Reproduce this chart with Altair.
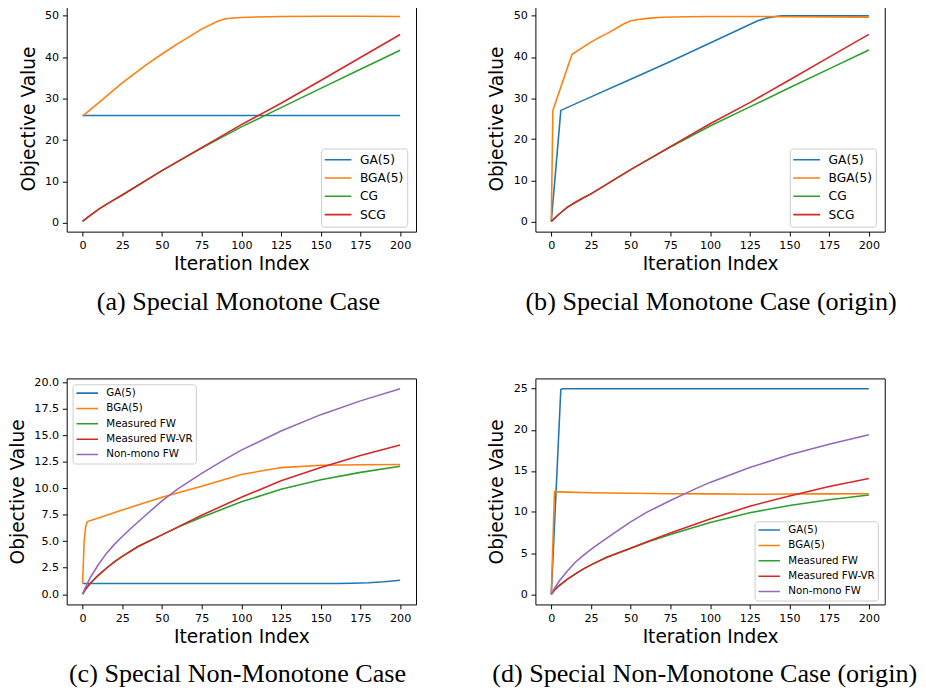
import altair as alt
import pandas as pd

# ---------------- data ----------------
X_TICKS = [0, 25, 50, 75, 100, 125, 150, 175, 200]

NAMES_AB = ["GA(5)", "BGA(5)", "CG", "SCG"]
NAMES_CD = ["GA(5)", "BGA(5)", "Measured FW", "Measured FW-VR", "Non-mono FW"]
COLORS_AB = ["#1f77b4", "#ff7f0e", "#2ca02c", "#d62728"]
COLORS_CD = ["#1f77b4", "#ff7f0e", "#2ca02c", "#d62728", "#9467bd"]

# (a) Special Monotone Case
A_X_GA = [0, 50, 100, 150, 200]
A_Y_GA = [25.95, 25.95, 25.95, 25.95, 25.95]
A_X_BGA = [0, 10, 25, 40, 50, 60, 75, 85, 90, 95, 100, 110, 125, 150, 175, 200]
A_Y_BGA = [25.8, 29.0, 33.8, 38.2, 40.8, 43.3, 46.8, 48.7, 49.3, 49.5, 49.6, 49.75, 49.85, 49.9, 49.9, 49.85]
A_X_CG = [0, 5, 10, 15, 20, 25, 50, 75, 100, 125, 150, 175, 200]
A_Y_CG = [0.4, 1.9, 3.3, 4.5, 5.65, 6.75, 12.65, 18.1, 23.2, 27.85, 32.5, 37.1, 41.7]
A_Y_SCG = [0.4, 1.9, 3.3, 4.5, 5.65, 6.75, 12.65, 18.2, 23.75, 28.9, 34.4, 39.95, 45.5]

# (b) Special Monotone Case (origin)
B_X_GA = [0, 6, 25, 50, 75, 100, 125, 130, 135, 140, 145, 200]
B_Y_GA = [0.0, 27.0, 30.3, 34.6, 38.9, 43.4, 47.9, 48.8, 49.4, 49.8, 50.0, 50.0]
B_X_BGA = [0, 1, 13, 20, 25, 30, 37, 45, 50, 55, 62, 70, 85, 100, 125, 150, 175, 200]
B_Y_BGA = [0.0, 27.0, 40.6, 42.4, 43.6, 44.7, 46.1, 47.9, 48.8, 49.1, 49.45, 49.65, 49.8, 49.85, 49.85, 49.8, 49.75, 49.7]
B_X_CG = [0, 5, 10, 15, 20, 25, 50, 75, 100, 125, 150, 175, 200]
B_Y_CG = [0.0, 1.8, 3.4, 4.6, 5.7, 6.7, 12.6, 18.1, 23.2, 27.85, 32.5, 37.1, 41.7]
B_Y_SCG = [0.0, 1.8, 3.4, 4.6, 5.7, 6.7, 12.6, 18.2, 23.75, 28.9, 34.4, 39.95, 45.5]

# (c) Special Non-Monotone Case
C_X_GA = [0, 25, 50, 75, 100, 125, 150, 160, 170, 180, 190, 200]
C_Y_GA = [1.0, 1.0, 1.0, 1.0, 1.0, 1.0, 1.0, 1.01, 1.03, 1.08, 1.17, 1.32]
C_X_BGA = [0, 1, 2, 3, 10, 25, 50, 75, 100, 125, 150, 175, 200]
C_Y_BGA = [1.0, 5.0, 6.4, 6.85, 7.2, 7.95, 9.15, 10.2, 11.3, 11.95, 12.17, 12.22, 12.25]
C_X_FW = [0, 2, 5, 10, 15, 20, 25, 35, 50, 62, 75, 100, 125, 150, 175, 200]
C_Y_FW = [0.0, 0.5, 1.05, 1.8, 2.45, 3.05, 3.57, 4.5, 5.6, 6.45, 7.27, 8.72, 9.9, 10.8, 11.5, 12.07]
C_Y_FWVR = [0.0, 0.5, 1.05, 1.8, 2.45, 3.05, 3.57, 4.5, 5.6, 6.5, 7.45, 9.15, 10.7, 11.95, 13.1, 14.08]
C_X_NM = [0, 1, 3, 5, 10, 15, 20, 25, 30, 40, 50, 60, 75, 90, 100, 125, 150, 175, 200]
C_Y_NM = [0.0, 0.4, 1.0, 1.6, 2.8, 3.85, 4.7, 5.45, 6.15, 7.5, 8.8, 9.95, 11.4, 12.75, 13.6, 15.4, 16.95, 18.25, 19.4]

# (d) Special Non-Monotone Case (origin)
D_X_GA = [0, 6, 7, 50, 100, 150, 200]
D_Y_GA = [0.0, 24.9, 25.0, 25.0, 25.0, 25.0, 25.0]
D_X_BGA = [0, 2, 10, 25, 50, 75, 100, 125, 150, 175, 200]
D_Y_BGA = [0.0, 12.48, 12.42, 12.35, 12.28, 12.22, 12.2, 12.15, 12.18, 12.2, 12.22]
D_X_FW = [0, 2, 5, 10, 15, 20, 25, 35, 50, 62, 75, 100, 125, 150, 175, 200]
D_Y_FW = [0.0, 0.5, 1.05, 1.8, 2.45, 3.05, 3.57, 4.5, 5.6, 6.45, 7.27, 8.72, 9.9, 10.8, 11.5, 12.07]
D_Y_FWVR = [0.0, 0.5, 1.05, 1.8, 2.45, 3.05, 3.57, 4.5, 5.6, 6.5, 7.45, 9.15, 10.7, 11.95, 13.1, 14.08]
D_X_NM = [0, 1, 3, 5, 10, 15, 20, 25, 30, 40, 50, 60, 75, 90, 100, 125, 150, 175, 200]
D_Y_NM = [0.0, 0.4, 1.0, 1.6, 2.8, 3.85, 4.7, 5.45, 6.15, 7.5, 8.8, 9.95, 11.4, 12.75, 13.6, 15.4, 16.95, 18.25, 19.4]

CAPTIONS = [
    "(a) Special Monotone Case",
    "(b) Special Monotone Case (origin)",
    "(c) Special Non-Monotone Case",
    "(d) Special Non-Monotone Case (origin)",
]

PW, PH = 357, 231


def frame(names, xs_list, ys_list):
    rows = []
    for name, xs, ys in zip(names, xs_list, ys_list):
        for xv, yv in zip(xs, ys):
            rows.append({"series": name, "x": xv, "y": yv})
    return pd.DataFrame(rows)


def panel(df, names, colors, ydom, yticks, yfmt, leg, caption, dx):
    return (
        alt.Chart(
            df,
            title=alt.TitleParams(
                text=caption, orient="bottom", anchor="middle", frame="group",
                font="Liberation Serif", fontSize=26.7, fontWeight="normal",
                color="black", offset=16, dx=dx,
            ),
        )
        .mark_line(strokeWidth=1.6)
        .encode(
            x=alt.X("x:Q", title="Iteration Index",
                    scale=alt.Scale(domain=[-10, 210], nice=False, zero=False),
                    axis=alt.Axis(values=X_TICKS)),
            y=alt.Y("y:Q", title="Objective Value",
                    scale=alt.Scale(domain=ydom, nice=False, zero=False),
                    axis=alt.Axis(values=yticks, format=yfmt)),
            color=alt.Color("series:N", sort=names,
                            scale=alt.Scale(domain=names, range=colors),
                            legend=alt.Legend(**leg)),
        )
        .properties(width=PW, height=PH)
    )


LEG_COMMON = dict(
    title=None, orient="none", symbolType="stroke", symbolStrokeWidth=1.6,
    fillColor="rgba(255,255,255,0.8)", strokeColor="#cccccc", cornerRadius=3,
    labelFont="DejaVu Sans", labelColor="black",
)
LEG_AB = dict(LEG_COMMON, labelFontSize=12.5, symbolSize=767, clipHeight=16,
              rowPadding=2.7, padding=3.5, symbolOffset=-1.35, labelOffset=7.5)
LEG_CD = dict(LEG_COMMON, labelFontSize=10.5, symbolSize=484, clipHeight=13,
              rowPadding=2.7, padding=2.5, symbolOffset=0.5, labelOffset=7.5)

df_a = frame(NAMES_AB, [A_X_GA, A_X_BGA, A_X_CG, A_X_CG], [A_Y_GA, A_Y_BGA, A_Y_CG, A_Y_SCG])
df_b = frame(NAMES_AB, [B_X_GA, B_X_BGA, B_X_CG, B_X_CG], [B_Y_GA, B_Y_BGA, B_Y_CG, B_Y_SCG])
df_c = frame(NAMES_CD, [C_X_GA, C_X_BGA, C_X_FW, C_X_FW, C_X_NM],
             [C_Y_GA, C_Y_BGA, C_Y_FW, C_Y_FWVR, C_Y_NM])
df_d = frame(NAMES_CD, [D_X_GA, D_X_BGA, D_X_FW, D_X_FW, D_X_NM],
             [D_Y_GA, D_Y_BGA, D_Y_FW, D_Y_FWVR, D_Y_NM])

pa = panel(df_a, NAMES_AB, COLORS_AB, [-2.09, 52.48], [0, 10, 20, 30, 40, 50], "d",
           dict(LEG_AB, legendX=260, legendY=146), CAPTIONS[0], -3)
pb = panel(df_b, NAMES_AB, COLORS_AB, [-2.5, 52.5], [0, 10, 20, 30, 40, 50], "d",
           dict(LEG_AB, legendX=260, legendY=146), CAPTIONS[1], 1)
pc = panel(df_c, NAMES_CD, COLORS_CD, [-0.97, 20.37],
           [0, 2.5, 5, 7.5, 10, 12.5, 15, 17.5, 20], ".1f",
           dict(LEG_CD, legendX=6, legendY=6), CAPTIONS[2], -4)
pd_ = panel(df_d, NAMES_CD, COLORS_CD, [-1.25, 26.25], [0, 5, 10, 15, 20, 25], "d",
            dict(LEG_CD, legendX=224, legendY=146), CAPTIONS[3], -5.5)

row1 = alt.hconcat(pa, pb, spacing=72).resolve_scale(color="independent", x="independent", y="independent").resolve_legend(color="independent")
row2 = alt.hconcat(pc, pd_, spacing=72).resolve_scale(color="independent", x="independent", y="independent").resolve_legend(color="independent")

chart = (
    alt.vconcat(row1, row2, spacing=61)
    .resolve_scale(color="independent", x="independent", y="independent")
    .resolve_legend(color="independent")
    .properties(padding={"left": 0, "top": -11, "right": 0, "bottom": 0})
    .configure_view(stroke="black", strokeWidth=1)
    .configure_axis(
        grid=False, domain=False, tickColor="black", tickSize=4.5, tickWidth=1,
        labelFont="DejaVu Sans", labelFontSize=11.4, labelColor="black",
        labelPadding=3.7, labelFlush=False, labelOverlap=False,
        titleFont="DejaVu Sans", titleFontSize=19, titleFontWeight="normal",
        titleColor="black",
    )
    .configure_axisX(titlePadding=4)
    .configure_axisY(titlePadding=6.5)
)

chart.save("out.html", embed_options={"renderer": "svg", "actions": False})
